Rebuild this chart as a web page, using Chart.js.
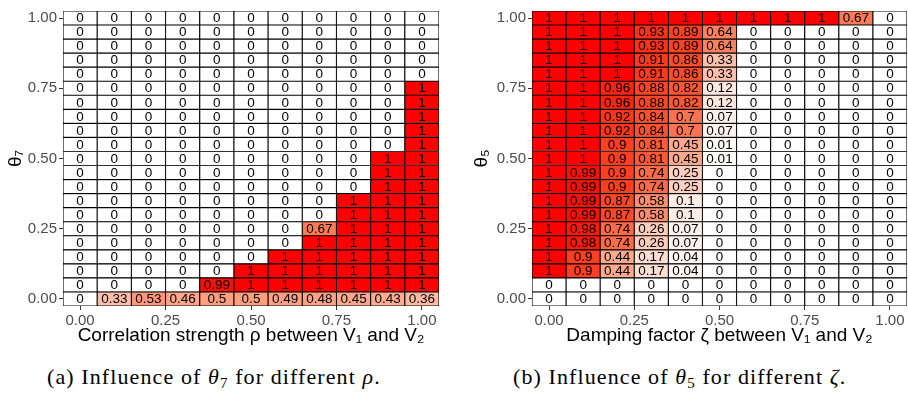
<!DOCTYPE html>
<html>
<head>
<meta charset="utf-8">
<script src="https://cdn.jsdelivr.net/npm/chart.js@4.4.0/dist/chart.umd.min.js"></script>
<style>
  body { margin: 0; background: #fff; }
  #wrap { position: relative; width: 908px; height: 394px; overflow: hidden; }
  canvas { position: absolute; top: 0; }
  .caption { position: absolute; top: 364px; font-family: "Liberation Serif", serif; font-size: 22px; letter-spacing: 1.1px; white-space: nowrap; color: #000; }
  .caption sub { font-size: 15px; vertical-align: -4px; line-height: 0; }
</style>
</head>
<body>
<div id="wrap">
  <canvas id="left" width="450" height="350" style="left:0"></canvas>
  <canvas id="right" width="458" height="350" style="left:450px"></canvas>
  <div class="caption" style="left:47px">(a) Influence of <i>θ</i><sub>7</sub> for different <i>ρ</i>.</div>
  <div class="caption" style="left:513px">(b) Influence of <i>θ</i><sub>5</sub> for different <i>ζ</i>.</div>
</div>
<script>
// x categories (rho / zeta) and y categories (theta), bottom row first
const xValues = [0, 0.1, 0.2, 0.3, 0.4, 0.5, 0.6, 0.7, 0.8, 0.9, 1];
const yValues = [0, 0.05, 0.1, 0.15, 0.2, 0.25, 0.3, 0.35, 0.4, 0.45, 0.5,
                 0.55, 0.6, 0.65, 0.7, 0.75, 0.8, 0.85, 0.9, 0.95, 1];
const tickValues = [0, 0.25, 0.5, 0.75, 1];
const tickLabels = ['0.00', '0.25', '0.50', '0.75', '1.00'];

// panel (a): influence of theta7 for different rho
const theta7Rows = [
  [0, 0.33, 0.53, 0.46, 0.5, 0.5, 0.49, 0.48, 0.45, 0.43, 0.36],
  [0, 0, 0, 0, 0.99, 1, 1, 1, 1, 1, 1],
  [0, 0, 0, 0, 0, 1, 1, 1, 1, 1, 1],
  [0, 0, 0, 0, 0, 0, 1, 1, 1, 1, 1],
  [0, 0, 0, 0, 0, 0, 0, 1, 1, 1, 1],
  [0, 0, 0, 0, 0, 0, 0, 0.67, 1, 1, 1],
  [0, 0, 0, 0, 0, 0, 0, 0, 1, 1, 1],
  [0, 0, 0, 0, 0, 0, 0, 0, 1, 1, 1],
  [0, 0, 0, 0, 0, 0, 0, 0, 0, 1, 1],
  [0, 0, 0, 0, 0, 0, 0, 0, 0, 1, 1],
  [0, 0, 0, 0, 0, 0, 0, 0, 0, 1, 1],
  [0, 0, 0, 0, 0, 0, 0, 0, 0, 0, 1],
  [0, 0, 0, 0, 0, 0, 0, 0, 0, 0, 1],
  [0, 0, 0, 0, 0, 0, 0, 0, 0, 0, 1],
  [0, 0, 0, 0, 0, 0, 0, 0, 0, 0, 1],
  [0, 0, 0, 0, 0, 0, 0, 0, 0, 0, 1],
  [0, 0, 0, 0, 0, 0, 0, 0, 0, 0, 0],
  [0, 0, 0, 0, 0, 0, 0, 0, 0, 0, 0],
  [0, 0, 0, 0, 0, 0, 0, 0, 0, 0, 0],
  [0, 0, 0, 0, 0, 0, 0, 0, 0, 0, 0],
  [0, 0, 0, 0, 0, 0, 0, 0, 0, 0, 0]
];

// panel (b): influence of theta5 for different zeta
const theta5Rows = [
  [0, 0, 0, 0, 0, 0, 0, 0, 0, 0, 0],
  [0, 0, 0, 0, 0, 0, 0, 0, 0, 0, 0],
  [1, 0.9, 0.44, 0.17, 0.04, 0, 0, 0, 0, 0, 0],
  [1, 0.9, 0.44, 0.17, 0.04, 0, 0, 0, 0, 0, 0],
  [1, 0.98, 0.74, 0.26, 0.07, 0, 0, 0, 0, 0, 0],
  [1, 0.98, 0.74, 0.26, 0.07, 0, 0, 0, 0, 0, 0],
  [1, 0.99, 0.87, 0.58, 0.1, 0, 0, 0, 0, 0, 0],
  [1, 0.99, 0.87, 0.58, 0.1, 0, 0, 0, 0, 0, 0],
  [1, 0.99, 0.9, 0.74, 0.25, 0, 0, 0, 0, 0, 0],
  [1, 0.99, 0.9, 0.74, 0.25, 0, 0, 0, 0, 0, 0],
  [1, 1, 0.9, 0.81, 0.45, 0.01, 0, 0, 0, 0, 0],
  [1, 1, 0.9, 0.81, 0.45, 0.01, 0, 0, 0, 0, 0],
  [1, 1, 0.92, 0.84, 0.7, 0.07, 0, 0, 0, 0, 0],
  [1, 1, 0.92, 0.84, 0.7, 0.07, 0, 0, 0, 0, 0],
  [1, 1, 0.96, 0.88, 0.82, 0.12, 0, 0, 0, 0, 0],
  [1, 1, 0.96, 0.88, 0.82, 0.12, 0, 0, 0, 0, 0],
  [1, 1, 1, 0.91, 0.86, 0.33, 0, 0, 0, 0, 0],
  [1, 1, 1, 0.91, 0.86, 0.33, 0, 0, 0, 0, 0],
  [1, 1, 1, 0.93, 0.89, 0.64, 0, 0, 0, 0, 0],
  [1, 1, 1, 0.93, 0.89, 0.64, 0, 0, 0, 0, 0],
  [1, 1, 1, 1, 1, 1, 1, 1, 1, 0.67, 0]
];

// white -> red gradient, mixed in Lab like ggplot's scale_fill_gradient
const white = [100, 0, 0];
const red = [53.2408, 80.0925, 67.2032];

function labToRgb(L, a, b) {
  const fy = (L + 16) / 116, fx = fy + a / 500, fz = fy - b / 200;
  const f = t => t > 0.206893 ? t * t * t : (t - 16 / 116) / 7.787;
  const X = 0.95047 * f(fx), Y = f(fy), Z = 1.08883 * f(fz);
  const lin = [
    3.2406 * X - 1.5372 * Y - 0.4986 * Z,
    -0.9689 * X + 1.8758 * Y + 0.0415 * Z,
    0.0557 * X - 0.2040 * Y + 1.0570 * Z
  ];
  return lin.map(c => {
    c = Math.min(1, Math.max(0, c));
    c = c <= 0.0031308 ? 12.92 * c : 1.055 * Math.pow(c, 1 / 2.4) - 0.055;
    return Math.round(c * 255);
  });
}

function fillFor(v) {
  const lab = white.map((w, i) => w + (red[i] - w) * v);
  const [r, g, b] = labToRgb(lab[0], lab[1], lab[2]);
  return `rgb(${r},${g},${b})`;
}

const cellLabels = {
  id: 'cellLabels',
  afterDatasetsDraw(chart) {
    const ctx = chart.ctx;
    ctx.save();
    ctx.font = '13.5px "Liberation Sans", Arial, sans-serif';
    ctx.fillStyle = '#000';
    ctx.textAlign = 'center';
    ctx.textBaseline = 'middle';
    chart.data.datasets.forEach((ds, i) => {
      chart.getDatasetMeta(i).data.forEach((bar, j) => {
        const p = bar.getProps(['x', 'y', 'base'], true);
        ctx.fillText(String(ds.data[j].v), p.x, (p.y + p.base) / 2 + 0.5);
      });
    });
    ctx.restore();
  }
};

function makeHeatmap(id, rows, xTitle, yTitle, yAxisWidth, yTitlePad, padRight) {
  const datasets = rows.map((row, r) => ({
    data: row.map((v, c) => ({ x: xValues[c], y: [yValues[r] - 0.025, yValues[r] + 0.025], v: v })),
    backgroundColor: ctx => fillFor(ctx.raw.v),
    borderColor: '#000',
    borderWidth: 0.9,
    borderSkipped: false,
    grouped: false,
    barPercentage: 1,
    categoryPercentage: 1
  }));

  const tickFont = { family: '"Liberation Sans", Arial, sans-serif', size: 15 };
  const titleFont = { family: '"Liberation Sans", Arial, sans-serif', size: 19 };
  const setTicks = s => { s.ticks = tickValues.map(v => ({ value: v })); };
  const fmt = v => tickLabels[tickValues.indexOf(v)];

  return new Chart(document.getElementById(id), {
    type: 'bar',
    data: { datasets },
    options: {
      responsive: false,
      animation: false,
      layout: { padding: { top: 6, right: padRight, left: 0, bottom: 0 } },
      plugins: { legend: { display: false }, tooltip: { enabled: false } },
      scales: {
        x: {
          type: 'linear',
          min: -0.05,
          max: 1.05,
          offset: false,
          afterBuildTicks: setTicks,
          afterFit: s => { s.height = 44; },
          grid: { drawOnChartArea: false, offset: false, tickLength: 4, color: '#333' },
          border: { display: false },
          ticks: { callback: fmt, color: '#4D4D4D', font: tickFont, padding: 2, maxRotation: 0 },
          title: { display: true, text: xTitle, color: '#000', font: titleFont, padding: { top: 2, bottom: 3 } }
        },
        y: {
          type: 'linear',
          min: -0.025,
          max: 1.025,
          afterBuildTicks: setTicks,
          afterFit: s => { s.width = yAxisWidth; },
          grid: { drawOnChartArea: false, tickLength: 4, color: '#333' },
          border: { display: false },
          ticks: { callback: fmt, color: '#4D4D4D', font: tickFont, padding: 2 },
          title: { display: true, text: yTitle, color: '#000', font: titleFont, padding: { top: yTitlePad, bottom: 4 } }
        }
      }
    },
    plugins: [cellLabels]
  });
}

makeHeatmap('left', theta7Rows, 'Correlation strength ρ between V₁ and V₂', 'θ₇', 63, 4, 11);
makeHeatmap('right', theta5Rows, 'Damping factor ζ between V₁ and V₂', 'θ₅', 82, 20, 1);
</script>
</body>
</html>
